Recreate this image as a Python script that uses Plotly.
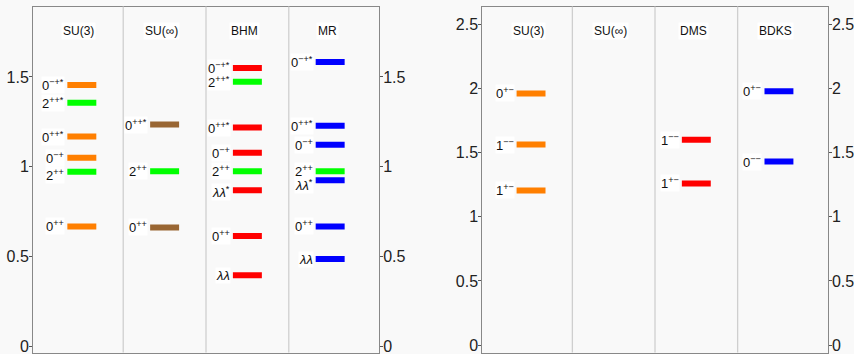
import plotly.graph_objects as go

# ---------------- data ----------------
left_columns = ["SU(3)", "SU(∞)", "BHM", "MR"]
right_columns = ["SU(3)", "SU(∞)", "DMS", "BDKS"]

# left panel: (column index 1..4)
left_su3_masses = [1.456, 1.357, 1.168, 1.050, 0.972, 0.667]
left_su3_labels = ["0<sup>−+*</sup>", "2<sup>++*</sup>", "0<sup>++*</sup>", "0<sup>−+</sup>", "2<sup>++</sup>", "0<sup>++</sup>"]
left_su3_colors = ["#FF7F00", "#00FF00", "#FF7F00", "#FF7F00", "#00FF00", "#FF7F00"]

left_suinf_masses = [1.235, 0.974, 0.661]
left_suinf_labels = ["0<sup>++*</sup>", "2<sup>++</sup>", "0<sup>++</sup>"]
left_suinf_colors = ["#996633", "#00FF00", "#996633"]

left_bhm_masses = [1.550, 1.474, 1.218, 1.078, 0.974, 0.868, 0.613, 0.394]
left_bhm_labels = ["0<sup>−+*</sup>", "2<sup>++*</sup>", "0<sup>++*</sup>", "0<sup>−+</sup>", "2<sup>++</sup>",
                   "<i>λλ</i><sup>*</sup>", "0<sup>++</sup>", "<i>λλ</i>"]
left_bhm_colors = ["#FF0000", "#00FF00", "#FF0000", "#FF0000", "#00FF00", "#FF0000", "#FF0000", "#FF0000"]

left_mr_masses = [1.583, 1.228, 1.122, 0.974, 0.924, 0.667, 0.485]
left_mr_labels = ["0<sup>−+*</sup>", "0<sup>++*</sup>", "0<sup>−+</sup>", "2<sup>++</sup>",
                  "<i>λλ</i><sup>*</sup>", "0<sup>++</sup>", "<i>λλ</i>"]
left_mr_colors = ["#0000FF", "#0000FF", "#0000FF", "#00FF00", "#0000FF", "#0000FF", "#0000FF"]

# right panel
right_su3_masses = [1.961, 1.5625, 1.205]
right_su3_labels = ["0<sup>+−</sup>", "1<sup>−−</sup>", "1<sup>+−</sup>"]
right_su3_colors = ["#FF7F00", "#FF7F00", "#FF7F00"]

right_dms_masses = [1.600, 1.260]
right_dms_labels = ["1<sup>−−</sup>", "1<sup>+−</sup>"]
right_dms_colors = ["#FF0000", "#FF0000"]

right_bdks_masses = [1.977, 1.430]
right_bdks_labels = ["0<sup>+−</sup>", "0<sup>−−</sup>"]
right_bdks_colors = ["#0000FF", "#0000FF"]

left_ticks = [0, 0.5, 1, 1.5]
right_ticks = [0, 0.5, 1, 1.5, 2, 2.5]

# ---------------- layout constants ----------------
FONT = "Arial, 'Liberation Sans', sans-serif"
BG = "#f9f9f9"
HALF = 0.175
XR = [0.41, 4.59]
left_yr = [-0.036, 1.893]
right_yr = [-0.057, 2.638]

panels = [
    dict(xa="x", ya="y", cols=left_columns, groups=[
        (1, left_su3_masses, left_su3_labels, left_su3_colors),
        (2, left_suinf_masses, left_suinf_labels, left_suinf_colors),
        (3, left_bhm_masses, left_bhm_labels, left_bhm_colors),
        (4, left_mr_masses, left_mr_labels, left_mr_colors),
    ]),
    dict(xa="x2", ya="y3", cols=right_columns, groups=[
        (1, right_su3_masses, right_su3_labels, right_su3_colors),
        (3, right_dms_masses, right_dms_labels, right_dms_colors),
        (4, right_bdks_masses, right_bdks_labels, right_bdks_colors),
    ]),
]

# small label nudges (pixels) to avoid overlaps
nudges = {("x", 1, 4): -3, ("x", 4, 4): -5, ("x", 3, 5): -2}

fig = go.Figure()
annotations = []
shapes = []
for p in panels:
    for col, masses, labels, colors in p["groups"]:
        for i, (m, lab, c) in enumerate(zip(masses, labels, colors)):
            fig.add_trace(go.Scatter(
                x=[col - HALF, col + HALF], y=[m, m], mode="lines",
                line=dict(color=c, width=6), xaxis=p["xa"], yaxis=p["ya"],
                showlegend=False, hoverinfo="skip"))
            annotations.append(dict(
                x=col - HALF, y=m, xref=p["xa"], yref=p["ya"], text=lab,
                showarrow=False, xanchor="right", yanchor="middle",
                xshift=-2, yshift=nudges.get((p["xa"], col, i), 0),
                bgcolor="white", borderpad=0,
                font=dict(family=FONT, size=13, color="#111")))
    for j, name in enumerate(p["cols"]):
        annotations.append(dict(
            x=j + 1, y=0.929, xref=p["xa"], yref=p["ya"] + " domain", text=name,
            showarrow=False, xanchor="center", yanchor="middle", xshift=-3,
            bgcolor="white", borderpad=1,
            font=dict(family=FONT, size=12, color="#111")))
    for d in [1.5, 2.5, 3.5]:
        shapes.append(dict(type="line", xref=p["xa"], yref=p["ya"] + " domain",
                           x0=d, x1=d, y0=0, y1=1,
                           line=dict(color="#cfcfcf", width=1.3)))

ydom = [1 - 352.5 / 354, 1 - 6.5 / 354]
xd1 = [33 / 854, 379 / 854]
xd2 = [482.3 / 854, 827.7 / 854]

xcommon = dict(range=XR, showticklabels=False, showgrid=False, zeroline=False,
               showline=True, linecolor="#888", linewidth=1, mirror=True, ticks="",
               fixedrange=True)
ycommon = dict(showgrid=False, zeroline=False, ticks="outside", ticklen=3,
               tickcolor="#555", tickwidth=1, ticklabeloverflow="allow",
               ticklabelstandoff=-3,
               tickfont=dict(family=FONT, size=16, color="#222"))

fig.update_layout(
    width=854, height=354,
    margin=dict(l=0, r=0, t=0, b=0, autoexpand=False),
    paper_bgcolor=BG, plot_bgcolor=BG,
    xaxis=dict(domain=xd1, anchor="y", **xcommon),
    xaxis2=dict(domain=xd2, anchor="y3", **xcommon),
    yaxis=dict(domain=ydom, anchor="x", range=left_yr, tickvals=left_ticks,
               ticktext=[f"{t:g}" for t in left_ticks], showline=True,
               linecolor="#888", mirror=True, **ycommon),
    yaxis2=dict(overlaying="y", anchor="x", side="right", range=left_yr,
                tickvals=left_ticks, ticktext=[f"{t:g}" for t in left_ticks],
                showline=False, **ycommon),
    yaxis3=dict(domain=ydom, anchor="x2", range=right_yr, tickvals=right_ticks,
                ticktext=[f"{t:g}" for t in right_ticks], showline=True,
                linecolor="#888", mirror=True, **ycommon),
    yaxis4=dict(overlaying="y3", anchor="x2", side="right", range=right_yr,
                tickvals=right_ticks, ticktext=[f"{t:g}" for t in right_ticks],
                showline=False, **ycommon),
    annotations=annotations, shapes=shapes,
)

# dummy traces so the overlay axes are drawn
fig.add_trace(go.Scatter(x=[None], y=[None], xaxis="x", yaxis="y2", showlegend=False, hoverinfo="skip"))
fig.add_trace(go.Scatter(x=[None], y=[None], xaxis="x2", yaxis="y4", showlegend=False, hoverinfo="skip"))

fig.write_html("out.html", config={"displayModeBar": False},
               post_script="document.body.style.margin='0';document.body.style.background='%s';" % BG)
